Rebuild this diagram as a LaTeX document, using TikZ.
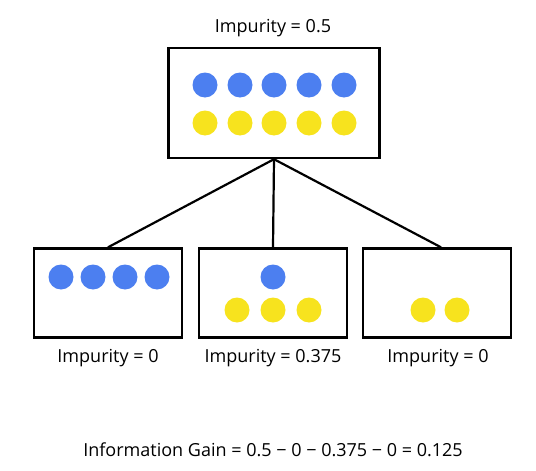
\documentclass[tikz,border=0pt]{standalone}
\usepackage{fontspec}
\setmainfont{Open Sans}
\definecolor{dotblue}{HTML}{4C7FF0}
\definecolor{dotyellow}{HTML}{F7E31E}
\tikzset{
  treebox/.style={draw, line width=2.4pt, minimum width=148pt, minimum height=89pt, inner sep=0pt},
  lbl/.style={font=\fontsize{18}{21}\selectfont},
  link/.style={line width=2.2pt},
}
\begin{document}
\begin{tikzpicture}[x=1pt,y=-1pt]
\useasboundingbox (0,0) rectangle (536,471);

\node[treebox, minimum width=211pt, minimum height=110pt] (root) at (274,103) {};
\node[treebox] (left) at (108,293) {};
\node[treebox] (mid) at (273,293) {};
\node[treebox] (right) at (437,293) {};

\draw[link] (root.south) -- (left.north);
\draw[link] (root.south) -- (mid.north);
\draw[link] (root.south) -- ([xshift=4pt]right.north);

% root: five of each
\foreach \x in {205,240,274,309,344} {
  \fill[dotblue] (\x,85) circle[radius=12.5];
  \fill[dotyellow] (\x,123) circle[radius=12.5];
}
% left child
\foreach \x in {61,93,125,157}
  \fill[dotblue] (\x,277) circle[radius=12.5];
% middle child
\fill[dotblue] (273,277) circle[radius=12.5];
\foreach \x in {237,273,309}
  \fill[dotyellow] (\x,310) circle[radius=12.5];
% right child
\foreach \x in {423,457}
  \fill[dotyellow] (\x,310) circle[radius=12.5];

\node[lbl] (rootimp) at (273,28) {Impurity = 0.5};
\node[lbl] (leftimp) at (108,358) {Impurity = 0};
\node[lbl] (midimp) at (273,358) {Impurity = 0.375};
\node[lbl] (rightimp) at (438,358) {Impurity = 0};

\node[lbl] (gain) at (273,450) {Information Gain = 0.5 − 0 − 0.375 − 0 = 0.125};
\end{tikzpicture}
\end{document}
